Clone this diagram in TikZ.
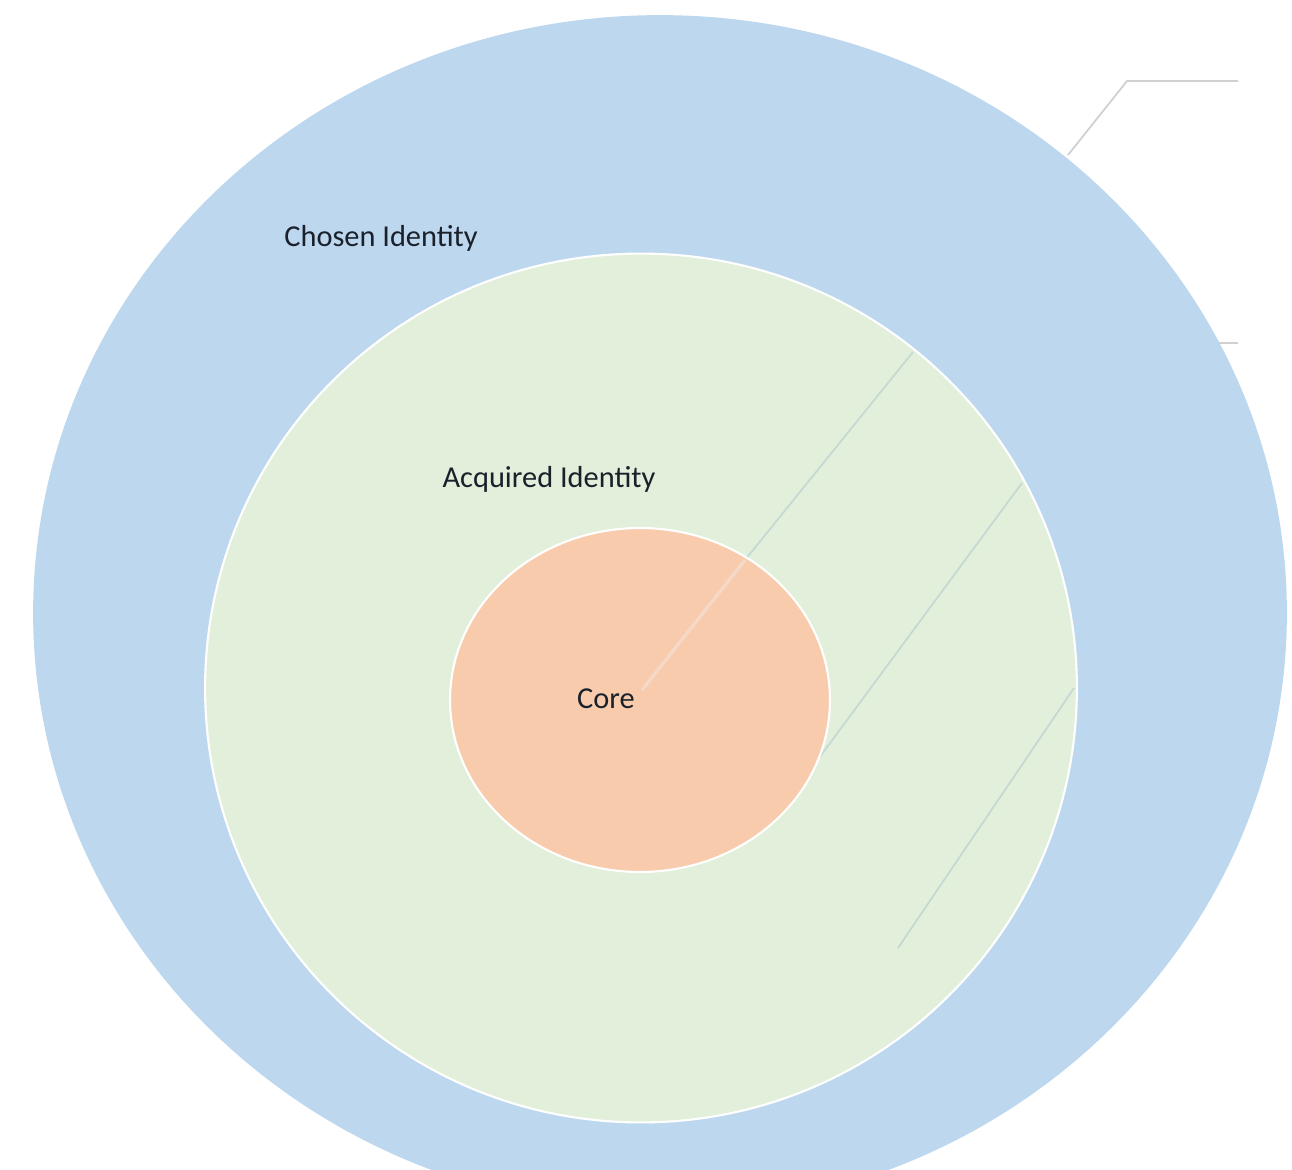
\documentclass[tikz,border=0pt]{standalone}
\usepackage{fontspec}
\setmainfont{Carlito}
\begin{document}
\begin{tikzpicture}[x=0.02cm,y=-0.02cm]
\definecolor{chosenblue}{HTML}{BDD7EE}
\definecolor{acqgreen}{HTML}{E2EFDA}
\definecolor{corepeach}{HTML}{F8CBAD}
\definecolor{leadgray}{HTML}{D0D0D0}
\definecolor{leadgreen}{HTML}{C6D8D4}
\definecolor{leadcore}{HTML}{F5D8C6}
\definecolor{txt}{HTML}{1A212B}
\tikzset{
  label/.style={font=\fontsize{17.3}{20}\selectfont, text=txt, inner sep=0pt},
  leader/.style={draw=leadgray, line width=1pt},
  leaderg/.style={draw=leadgreen, line width=1pt},
  leaderc/.style={draw=leadcore, line width=2pt},
  ring/.style={draw=white, line width=1.2pt}
}
\useasboundingbox (0,0) rectangle (1292,1170);
\clip (0,0) rectangle (1292,1170);

% leader-line coordinates
\coordinate (l1a) at (1238,81);
\coordinate (l1b) at (1127,81);
\coordinate (l1c) at (1068,155);
\coordinate (l1d) at (913,352);
\coordinate (l1e) at (745,560);
\coordinate (l1f) at (642,690);
\coordinate (l2a) at (1238,343);
\coordinate (l2b) at (1214,343);
\coordinate (l2c) at (1022,483);
\coordinate (l2d) at (819,758);
\coordinate (l3a) at (1074,688);
\coordinate (l3b) at (898,948);

% visible parts over the white background
\draw[leader] (l1a) -- (l1b) -- (l1c);
\draw[leader] (l2a) -- (l2b);

% outer ring: Chosen Identity
\fill[chosenblue] (660,613) ellipse [x radius=12.54cm, y radius=11.96cm];
% middle ring: Acquired Identity
\fill[acqgreen] (641,688) ellipse [x radius=8.72cm, y radius=8.69cm];
\draw[leaderg] (l1d) -- (l1e);
\draw[leaderg] (l2c) -- (l2d);
\draw[leaderg] (l3a) -- (l3b);
\draw[ring] (641,688) ellipse [x radius=8.72cm, y radius=8.69cm];
% core
\fill[corepeach] (640,700) ellipse [x radius=3.8cm, y radius=3.44cm];
\draw[leaderc] (l1e) -- (l1f);
\draw[ring] (640,700) ellipse [x radius=3.8cm, y radius=3.44cm];

\node[label, anchor=west] (chosen) at (284,238) {Chosen Identity};
\node[label] (acquired) at (549,479) {Acquired Identity};
\node[label] (core) at (606,699) {Core};
\end{tikzpicture}
\end{document}
